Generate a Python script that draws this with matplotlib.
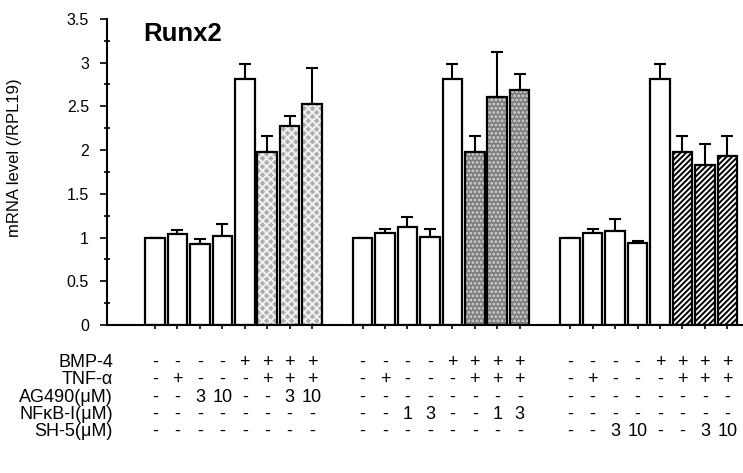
import numpy as np
import matplotlib
matplotlib.use("Agg")
import matplotlib.pyplot as plt
import matplotlib.transforms as mtransforms

plt.rcParams['font.family'] = ['Liberation Sans', 'DejaVu Sans']
plt.rcParams['hatch.linewidth'] = 1.4

# values (mRNA level / RPL19), three blocks of 8 bars
ag490_vals = [1.00, 1.04, 0.93, 1.02, 2.81, 1.98, 2.27, 2.53]
ag490_err = [0.00, 0.05, 0.05, 0.13, 0.18, 0.18, 0.12, 0.41]
nfkb_vals = [1.00, 1.05, 1.12, 1.01, 2.81, 1.98, 2.61, 2.69]
nfkb_err = [0.00, 0.05, 0.12, 0.09, 0.18, 0.18, 0.51, 0.18]
sh5_vals = [1.00, 1.05, 1.07, 0.94, 2.81, 1.98, 1.83, 1.93]
sh5_err = [0.00, 0.05, 0.14, 0.02, 0.18, 0.18, 0.24, 0.23]

yticks = [0, 0.5, 1, 1.5, 2, 2.5, 3, 3.5]
ytick_labels = ['0', '0.5', '1', '1.5', '2', '2.5', '3', '3.5']

# condition table below the bars
row_labels = ['BMP-4', 'TNF-\u03b1', 'AG490(\u03bcM)', 'NF\u03baB-I(\u03bcM)', 'SH-5(\u03bcM)']
bmp4 = ['-', '-', '-', '-', '+', '+', '+', '+']
tnf = ['-', '+', '-', '-', '-', '+', '+', '+']
dose_310 = ['-', '-', '3', '10', '-', '-', '3', '10']
dose_13 = ['-', '-', '1', '3', '-', '-', '1', '3']
none = ['-'] * 8

group_offsets = [0.0, 9.25, 18.5]
groups = [
    (ag490_vals, ag490_err, '#adadad', 'xxxx', '#f2f2f2'),
    (nfkb_vals, nfkb_err, '#7c7c7c', '....', '#d4d4d4'),
    (sh5_vals, sh5_err, 'white', '//////', 'black'),
]
table_rows = [
    [bmp4, bmp4, bmp4],
    [tnf, tnf, tnf],
    [dose_310, none, none],
    [none, dose_13, none],
    [none, none, dose_310],
]

fig = plt.figure(figsize=(7.43, 4.73), dpi=100)
ax = fig.add_axes([0.144, 0.313, 0.856, 0.647])

w = 0.87
all_x = []
for off, (vals, err, fc, hatch, hcol) in zip(group_offsets, groups):
    x = np.arange(8) + off
    all_x.extend(x)
    # untreated bars and BMP-4 alone are open
    ax.bar(x[:5], vals[:5], width=w, color='white', edgecolor='black', linewidth=1.6, zorder=2)
    # inhibitor bars: hatch layer then black outline
    ax.bar(x[5:], vals[5:], width=w, color=fc, edgecolor=hcol, hatch=hatch, linewidth=0, zorder=2)
    ax.bar(x[5:], vals[5:], width=w, fill=False, edgecolor='black', linewidth=1.6, zorder=3)
    ax.errorbar(x, vals, yerr=[np.zeros(8), err], fmt='none', ecolor='black',
                elinewidth=1.5, capsize=4, capthick=1.5, zorder=1)

ax.set_xlim(-2.14, 26.2)
ax.set_ylim(0, 3.5)
ax.spines['top'].set_visible(False)
ax.spines['right'].set_visible(False)
ax.spines['left'].set_linewidth(1.5)
ax.spines['bottom'].set_linewidth(1.5)
ax.set_xticks(all_x)
ax.set_xticklabels([])
ax.tick_params(axis='x', direction='out', length=3, width=1.2)
ax.set_yticks(yticks)
ax.set_yticklabels(ytick_labels)
ax.set_yticks(np.arange(0.25, 3.5, 0.5), minor=True)
ax.tick_params(axis='y', which='major', direction='out', length=5, width=1.2, labelsize=11.5, pad=8)
ax.tick_params(axis='y', which='minor', direction='inout', length=4, width=1.2)
ax.set_ylabel('mRNA level (/RPL19)', fontsize=12)
ax.yaxis.set_label_coords(-0.134, 0.546)

ax.text(0.057, 0.99, 'Runx2', transform=ax.transAxes, fontsize=18.5, fontweight='bold',
        ha='left', va='top')

# condition table
trans = mtransforms.blended_transform_factory(ax.transData, fig.transFigure)
row_y = [362, 379.5, 397, 414.5, 431]
for label, yp, rows in zip(row_labels, row_y, table_rows):
    yf = 1 - yp / 473
    fig.text(0.152, yf, label, ha='right', va='center', fontsize=13)
    for off, marks in zip(group_offsets, rows):
        for i, m in enumerate(marks):
            ax.text(off + i, yf, m, transform=trans, ha='center', va='center',
                    fontsize=13, clip_on=False)

fig.savefig('out.png', dpi=100)
